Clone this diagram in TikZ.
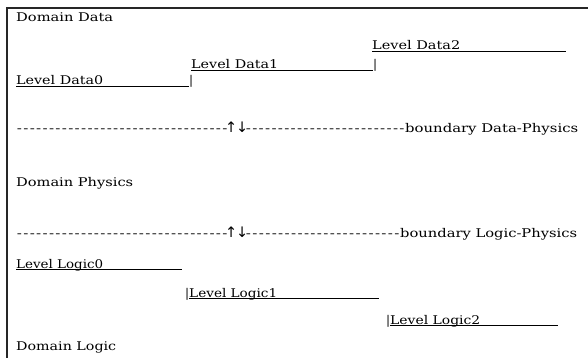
\documentclass[tikz,border=0pt]{standalone}
\usepackage{graphicx}
\usepackage{fontspec}
\setmainfont{DejaVu Serif}
\newfontfamily\arrowfont{DejaVu Sans}
% set a text at a given width, keeping its height
\newcommand\fitw[2]{\resizebox{#1}{\height}{#2}}
% underlined label (text width #2) padded to a total width #1
\newcommand\lvl[3]{\makebox[#1][l]{\fitw{#2}{#3}}\llap{\rule[-2.2pt]{#1}{0.8pt}}}
% a run of hyphens filling a given width
\newcommand\hyphenrun[1]{\hbox to #1{\xleaders\hbox{\kern0.6pt\scalebox{1.25}[1]{-}\kern0.6pt}\hfill}}
% the pair of arrows on a boundary line
\newcommand\updown{\makebox[17pt]{\arrowfont\fontsize{14.5}{15}\selectfont ↑\kern-1pt↓}}
\begin{document}
\begin{tikzpicture}[x=1pt,y=-1pt,
  txt/.style={anchor=base west, inner sep=0pt, font=\fontsize{12}{14}\selectfont},
  frame/.style={line width=1.3pt, black!85}]
\useasboundingbox (0,0) rectangle (588,358);
\draw[frame] (7,358) -- (7,8) -- (588,8);

% domain Data
\node[txt] (dd)  at (16,22)  {\fitw{97pt}{Domain Data}};
\node[txt] (ld2) at (372,50) {\lvl{194pt}{88pt}{Level Data2}};
\node[txt] (ld1) at (191,69) {\lvl{182pt}{87pt}{Level Data1}|};
\node[txt] (ld0) at (16,85)  {\lvl{173pt}{87pt}{Level Data0}|};

% boundaries
\node[txt] (bdp) at (16,133) {\hyphenrun{212pt}\updown\hyphenrun{160pt}\fitw{173pt}{boundary Data-Physics}};
\node[txt] (dp)  at (16,186) {\fitw{117pt}{Domain Physics}};
\node[txt] (blp) at (16,237) {\hyphenrun{212pt}\updown\hyphenrun{155pt}\fitw{177pt}{boundary Logic-Physics}};

% domain Logic
\node[txt] (ll0) at (16,268)  {\lvl{166pt}{87pt}{Level Logic0}};
\node[txt] (ll1) at (185,297) {|\lvl{190pt}{88pt}{Level Logic1}};
\node[txt] (ll2) at (386,324) {|\lvl{168pt}{90pt}{Level Logic2}};
\node[txt] (dl)  at (16,350)  {\fitw{100pt}{Domain Logic}};
\end{tikzpicture}
\end{document}
